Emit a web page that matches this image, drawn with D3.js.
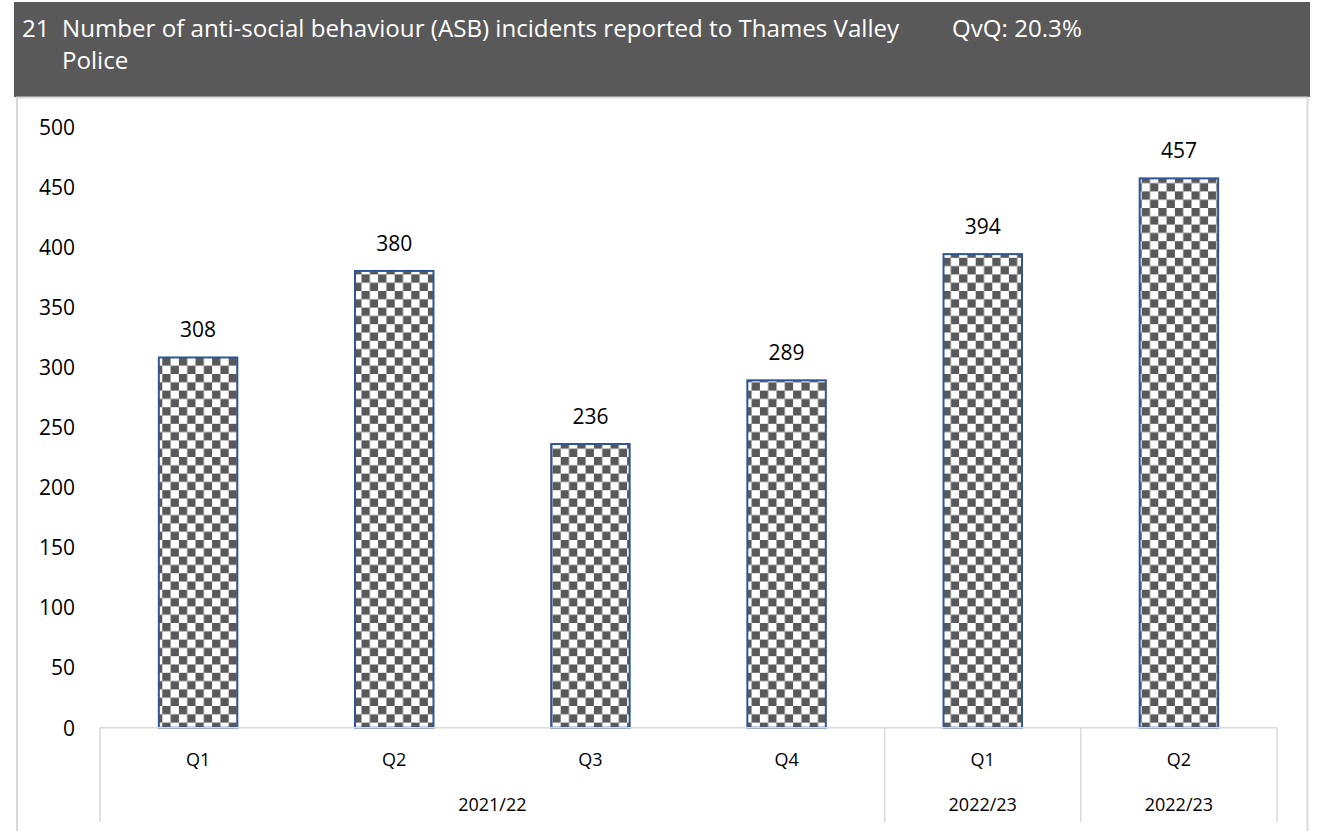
<!DOCTYPE html>
<html>
<head>
<meta charset="utf-8">
<script src="https://cdn.jsdelivr.net/npm/d3@7"></script>
<style>
  html, body { margin: 0; padding: 0; background: #ffffff; }
  svg { display: block; }
  text { font-family: "Open Sans", sans-serif; }
</style>
</head>
<body>
<script>
// ---- data ----
const chartNumber = "21";
const titleLines = ["Number of anti-social behaviour (ASB) incidents reported to Thames Valley", "Police"];
const qvqText = "QvQ: 20.3%";
const quarters = ["Q1", "Q2", "Q3", "Q4", "Q1", "Q2"];
const years = ["2021/22", "2021/22", "2021/22", "2021/22", "2022/23", "2022/23"];
const values = [308, 380, 236, 289, 394, 457];
const yTicks = [0, 50, 100, 150, 200, 250, 300, 350, 400, 450, 500];

// ---- layout ----
const W = 1325, H = 831;
const plot = { left: 100, right: 1277, top: 126.7, bottom: 727.7 };
const headerColor = "#595959";
const gridGray = "#D9D9D9";
const barStroke = "#2F5597";

const svg = d3.select("body").append("svg").attr("width", W).attr("height", H);

// checkerboard pattern
const defs = svg.append("defs");
const sq = 8.3;
const pat = defs.append("pattern")
  .attr("id", "checker")
  .attr("patternUnits", "userSpaceOnUse")
  .attr("x", 162.3).attr("y", 357.4)
  .attr("width", sq * 2).attr("height", sq * 2);
pat.append("rect").attr("width", sq * 2).attr("height", sq * 2).attr("fill", "#ffffff");
pat.append("rect").attr("x", 0).attr("y", 0).attr("width", sq).attr("height", sq).attr("fill", headerColor);
pat.append("rect").attr("x", sq).attr("y", sq).attr("width", sq).attr("height", sq).attr("fill", headerColor);

// header band
svg.append("rect").attr("x", 14).attr("y", 2).attr("width", 1296).attr("height", 95).attr("fill", headerColor);

// title
const title = svg.append("g").attr("fill", "#ffffff");
title.append("text").attr("x", 22).attr("y", 37).attr("font-size", 20.5).text(chartNumber);
const t1 = title.append("text").attr("x", 62).attr("y", 37).attr("font-size", 20.5).text(titleLines[0]);
title.append("text").attr("x", 62).attr("y", 69).attr("font-size", 20.5).text(titleLines[1]);
title.append("text").attr("x", 952).attr("y", 37).attr("font-size", 20.5).text(qvqText);
// fit main title line to its width in the reference
const targetLen = 838;
const len = t1.node().getComputedTextLength();
const fs = 20.5 * targetLen / len;
title.selectAll("text").attr("font-size", fs);

// chart border
svg.append("rect").attr("x", 17).attr("y", 97.5).attr("width", 1290.5).attr("height", 745)
  .attr("fill", "none").attr("stroke", gridGray).attr("stroke-width", 2);

// scales
const idx = quarters.map((d, i) => i);
const x = d3.scaleBand().domain(idx).range([plot.left, plot.right]).paddingInner(0.6).paddingOuter(0.3);
const xOuter = d3.scaleBand().domain(idx).range([plot.left, plot.right]);
const y = d3.scaleLinear().domain([0, 500]).range([plot.bottom, plot.top]);

// y axis labels
const yAxis = d3.axisLeft(y).tickValues(yTicks).tickSize(0).tickPadding(0);
const yg = svg.append("g").attr("transform", "translate(75,0)").call(yAxis);
yg.select(".domain").remove();
yg.selectAll("text").attr("font-family", "Open Sans, sans-serif").attr("font-size", 21)
  .attr("fill", "#000000").attr("dy", "0.35em");

// bars
svg.append("g").selectAll("rect").data(values).join("rect")
  .attr("x", (d, i) => x(i))
  .attr("y", d => y(d))
  .attr("width", x.bandwidth())
  .attr("height", d => y(0) - y(d))
  .attr("fill", "url(#checker)")
  .attr("stroke", barStroke)
  .attr("stroke-width", 2);

// data labels
svg.append("g").selectAll("text").data(values).join("text")
  .attr("x", (d, i) => x(i) + x.bandwidth() / 2)
  .attr("y", d => y(d) - 20)
  .attr("text-anchor", "middle")
  .attr("font-size", 21)
  .attr("fill", "#000000")
  .text(d => d);

// category axis
const axisBottom = 822;
const ax = svg.append("g").attr("stroke", gridGray).attr("stroke-width", 1.5);
ax.append("line").attr("x1", plot.left).attr("x2", plot.right).attr("y1", plot.bottom).attr("y2", plot.bottom);
// groups: 2021/22 quarters together; each 2022/23 quarter shown as its own group (as in reference)
const groups = [];
let start = 0;
for (let i = 1; i <= years.length; i++) {
  if (i === years.length || years[i] !== years[i - 1] || (i >= 5)) {
    groups.push({ label: years[start], from: start, to: i - 1 });
    start = i;
  }
}
const sepX = [plot.left].concat(groups.map(g => xOuter(g.to) + xOuter.bandwidth()));
ax.selectAll("line.sep").data(sepX).join("line").attr("class", "sep")
  .attr("x1", d => d).attr("x2", d => d)
  .attr("y1", plot.bottom).attr("y2", axisBottom);

// quarter labels
svg.append("g").selectAll("text").data(quarters).join("text")
  .attr("x", (d, i) => xOuter(i) + xOuter.bandwidth() / 2)
  .attr("y", 760).attr("dy", "0.35em")
  .attr("text-anchor", "middle").attr("font-size", 18).attr("fill", "#000000")
  .text(d => d);

// year labels
svg.append("g").selectAll("text").data(groups).join("text")
  .attr("x", g => (xOuter(g.from) + xOuter(g.to) + xOuter.bandwidth()) / 2)
  .attr("y", 805).attr("dy", "0.35em")
  .attr("text-anchor", "middle").attr("font-size", 18).attr("fill", "#000000")
  .text(g => g.label);
</script>
</body>
</html>
